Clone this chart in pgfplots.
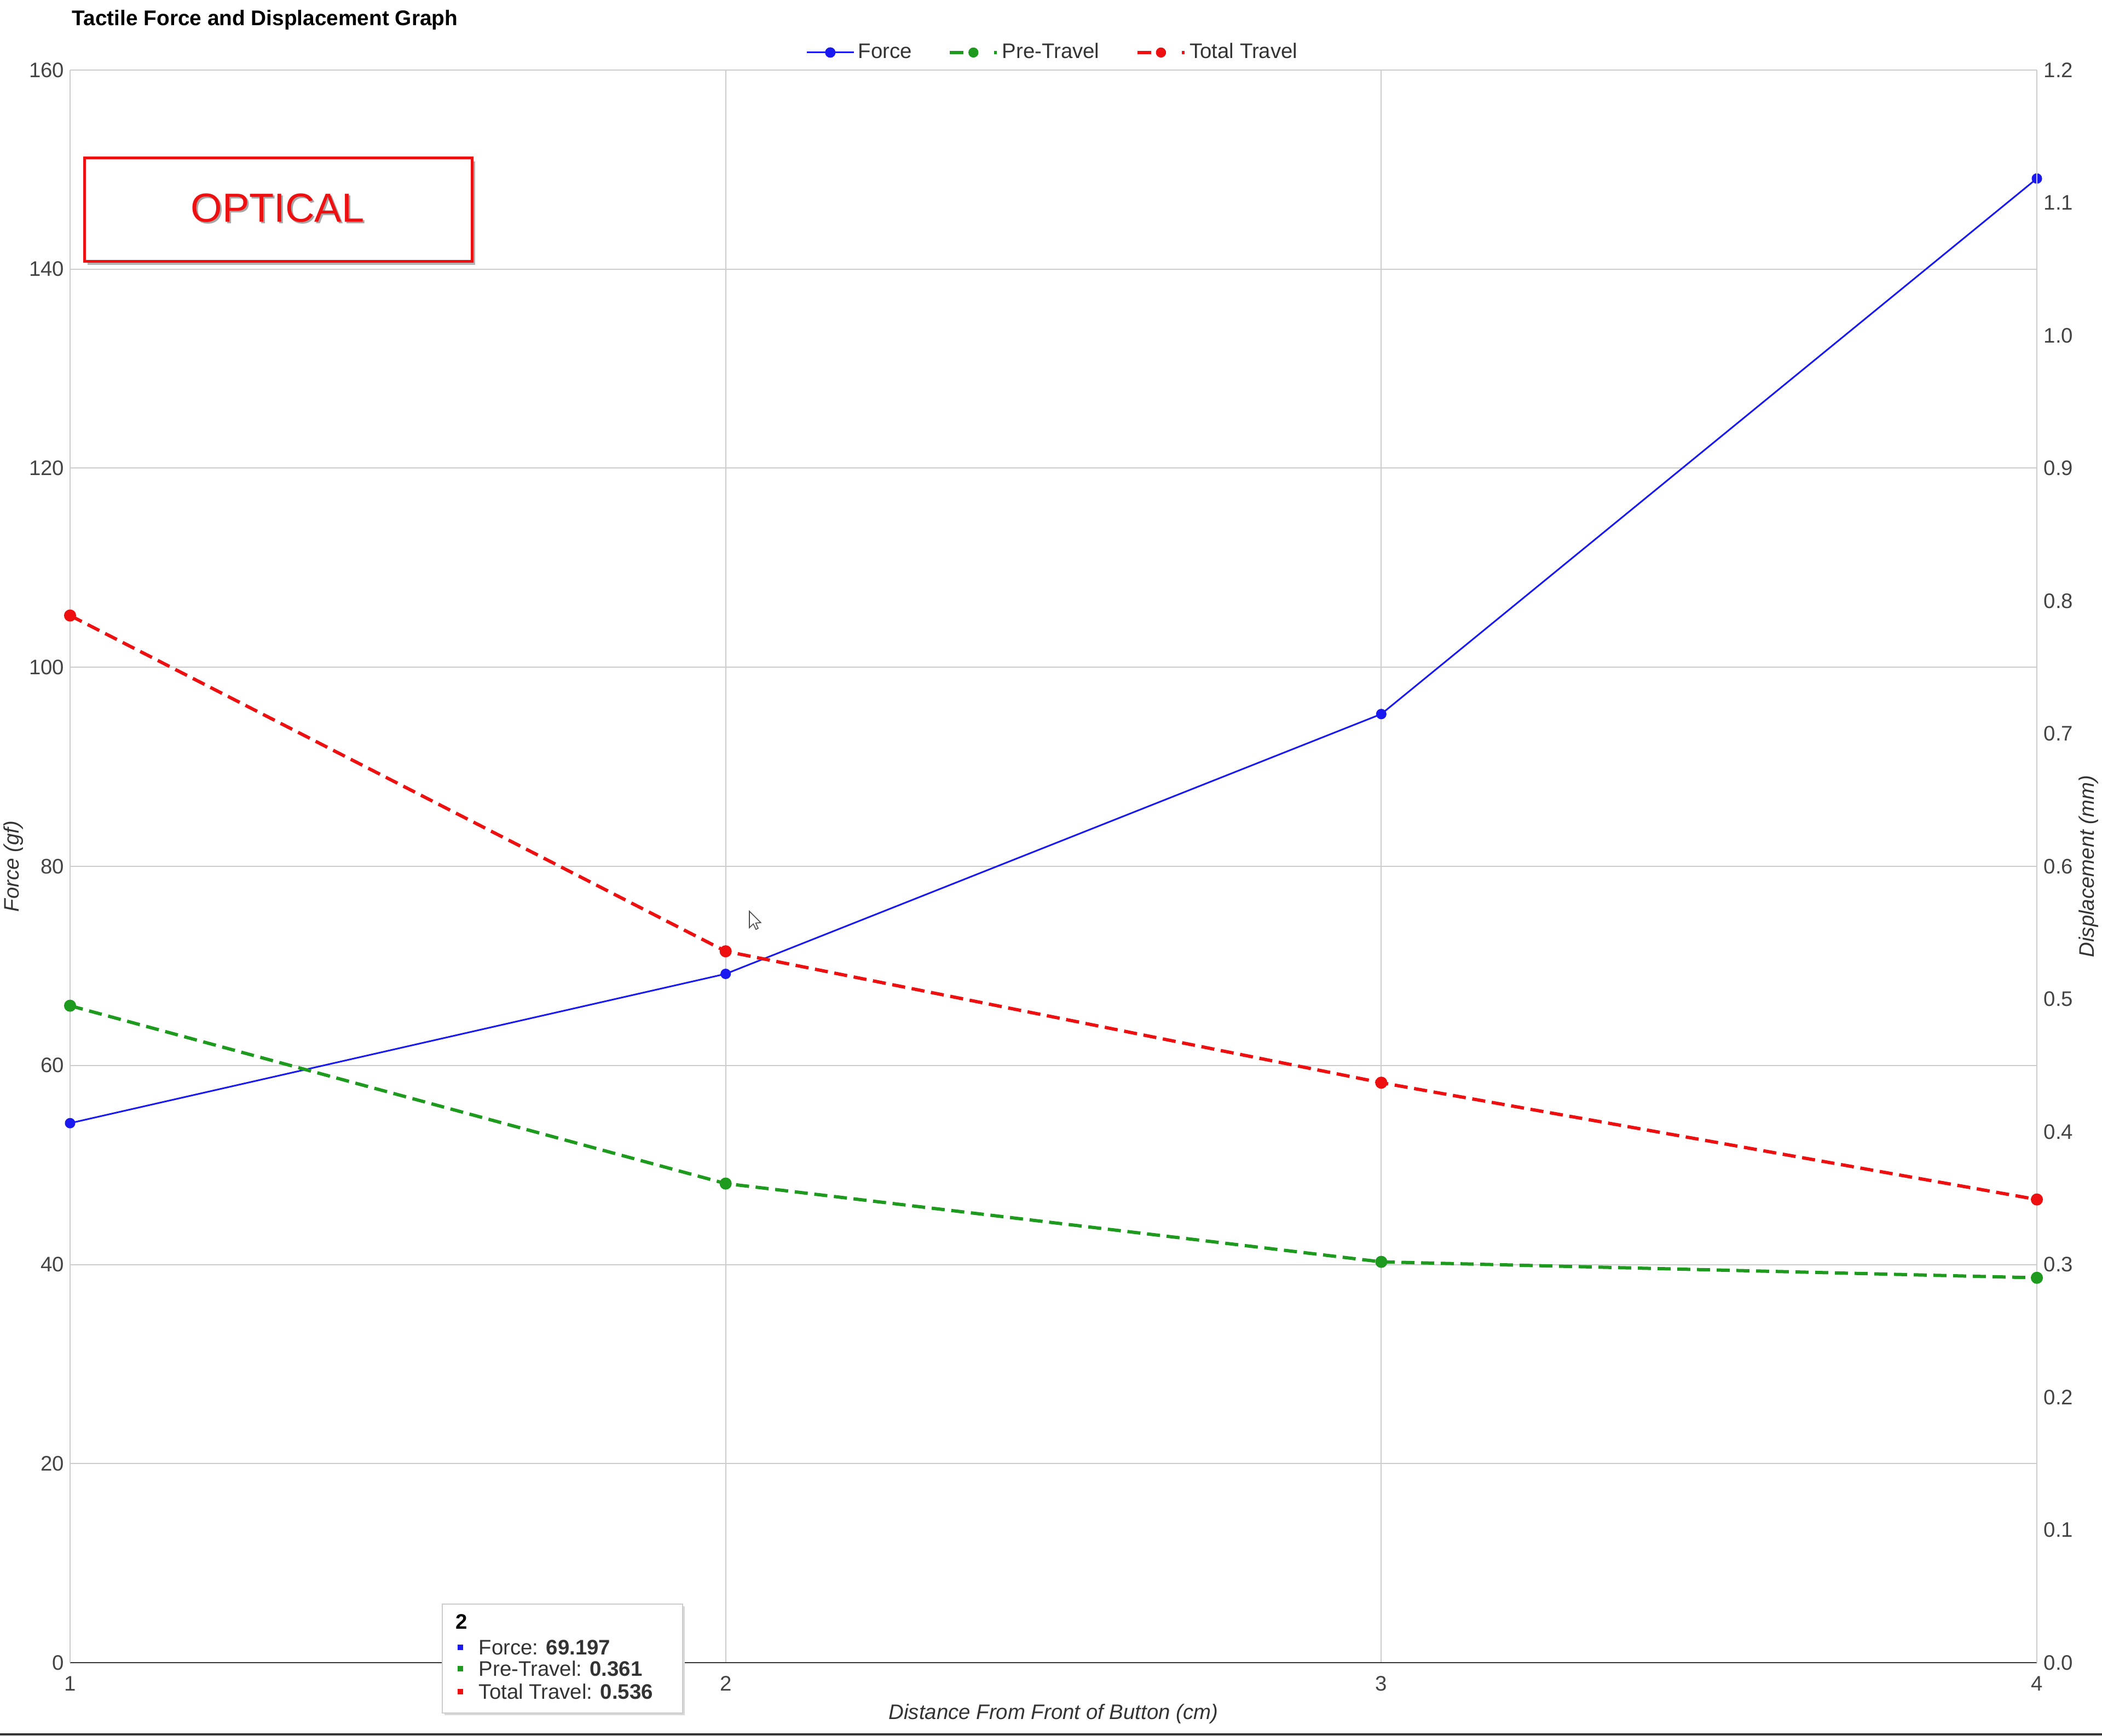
\documentclass[border=0pt]{standalone}
\usepackage{fontspec}
\setmainfont{Liberation Sans}
\usepackage{pgfplots}
\pgfplotsset{compat=1.18}

\definecolor{fblue}{RGB}{26,26,240}
\definecolor{pgreen}{RGB}{30,155,30}
\definecolor{tred}{RGB}{238,16,16}
\definecolor{gridc}{RGB}{204,204,204}
\definecolor{axisc}{RGB}{51,51,51}
\definecolor{tickc}{RGB}{68,68,68}

\newcommand{\fs}{\fontsize{9.6}{11}\selectfont}

% shared geometry of both axes
\pgfplotsset{
  base/.style={
    scale only axis, width=898.25pt, height=727.5pt,
    at={(32pt,33.25pt)}, anchor=south west,
    xmin=1, xmax=4, clip=false,
    major tick length=0pt,
    tick label style={font=\fs, color=tickc},
    /pgf/number format/assume math mode=true,
    label style={font=\fs\itshape, color=axisc},
  },
}

\begin{document}
\begin{tikzpicture}
\path[use as bounding box] (0,0) rectangle (960pt,792.75pt);

\begin{axis}[base,
  axis x line*=bottom, axis y line*=left,
  x axis line style={axisc, line width=0.7pt},
  y axis line style={gridc, line width=0.6pt},
  ymin=0, ymax=160, ytick={0,20,40,60,80,100,120,140,160},
  xtick={1,2,3,4},
  grid=major, grid style={gridc, line width=0.5pt},
  xticklabel style={anchor=center, yshift=-9.5pt},
  yticklabel style={anchor=east, inner sep=0pt, xshift=-2.5pt},
  xlabel={Distance From Front of Button (cm)},
  xlabel style={at={(axis description cs:0.5,-0.0323)}, anchor=center},
  ylabel={Force (gf)},
  ylabel style={at={(axis description cs:-0.0287,0.5)}, anchor=center},
  legend columns=3,
  legend style={draw=none, fill=none, at={(0.5,1.011)}, anchor=center,
    font=\fs, text=axisc, nodes={inner sep=1.6pt},
    /tikz/every even column/.append style={column sep=15pt}},
]
\addplot[fblue, line width=0.75pt, mark=*, mark size=2pt,
  legend image code/.code={
    \draw[fblue, line width=0.75pt] (0pt,0pt) -- (21.5pt,0pt);
    \fill[fblue] (10.75pt,0pt) circle (2pt);}]
  coordinates {(1,54.2) (2,69.197) (3,95.3) (4,149.1)};
\addlegendentry{Force}
\addlegendimage{legend image code/.code={
    \draw[pgreen, line width=1.5pt] (0pt,0pt) -- (6.3pt,0pt);
    \draw[pgreen, line width=1.5pt] (9pt,0pt) -- (13pt,0pt);
    \draw[pgreen, line width=1.5pt] (20.3pt,0pt) -- (21.5pt,0pt);
    \fill[pgreen] (10.75pt,0pt) circle (2.1pt);}}
\addlegendentry{Pre-Travel}
\addlegendimage{legend image code/.code={
    \draw[tred, line width=1.5pt] (0pt,0pt) -- (6.3pt,0pt);
    \draw[tred, line width=1.5pt] (9pt,0pt) -- (13pt,0pt);
    \draw[tred, line width=1.5pt] (20.3pt,0pt) -- (21.5pt,0pt);
    \fill[tred] (10.75pt,0pt) circle (2.1pt);}}
\addlegendentry{Total Travel}
\end{axis}

\begin{axis}[base,
  axis x line=none, axis y line*=right,
  y axis line style={gridc, line width=0.6pt},
  ymin=0, ymax=1.2,
  ytick={0,0.1,0.2,0.3,0.4,0.5,0.6,0.7,0.8,0.9,1.0,1.1,1.2},
  yticklabel style={anchor=west, inner sep=0pt, xshift=3pt,
    /pgf/number format/fixed, /pgf/number format/fixed zerofill,
    /pgf/number format/precision=1},
  ylabel={Displacement (mm)},
  ylabel style={at={(axis description cs:1.0264,0.5)}, anchor=center},
]
\addplot[pgreen, line width=1.5pt, dash pattern=on 6pt off 3pt,
  mark=*, mark size=2pt, mark options={solid}]
  coordinates {(1,0.495) (2,0.361) (3,0.302) (4,0.290)};
\addplot[tred, line width=1.5pt, dash pattern=on 6pt off 3pt,
  mark=*, mark size=2pt, mark options={solid}]
  coordinates {(1,0.789) (2,0.536) (3,0.437) (4,0.349)};
\end{axis}

% title
\node[anchor=west, inner sep=0pt, font=\fontsize{9.7}{11}\selectfont\bfseries]
  at (32.75pt,783.5pt) {Tactile Force and Displacement Graph};

% OPTICAL stamp
\fill[black!30] (40pt,671.75pt) rectangle (217pt,719pt);
\draw[tred, line width=1.25pt, fill=white] (38.5pt,673.25pt) rectangle (215.5pt,720.5pt);
\node[text=black!35, font=\fontsize{18.5}{20}\selectfont] at (127.5pt,697pt) {OPTICAL};
\node[text=tred, font=\fontsize{18.5}{20}\selectfont] at (126.75pt,697.75pt) {OPTICAL};

% tooltip
\fill[black!15] (203pt,9.25pt) rectangle (312.75pt,59pt);
\draw[gridc, line width=0.6pt, fill=white] (202pt,10.25pt) rectangle (311.75pt,60pt);
\node[anchor=west, inner sep=0pt, font=\fs\bfseries] at (208pt,52pt) {2};
\fill[fblue] (209pt,39pt) rectangle ++(2.5pt,2.5pt);
\fill[pgreen] (209pt,29.25pt) rectangle ++(2.5pt,2.5pt);
\fill[tred] (209pt,18.75pt) rectangle ++(2.5pt,2.5pt);
\node[anchor=west, inner sep=0pt, font=\fs, text=axisc] at (218.5pt,40.25pt) {Force: \textbf{69.197}};
\node[anchor=west, inner sep=0pt, font=\fs, text=axisc] at (218.5pt,30.5pt) {Pre-Travel: \textbf{0.361}};
\node[anchor=west, inner sep=0pt, font=\fs, text=axisc] at (218.5pt,20pt) {Total Travel: \textbf{0.536}};

% mouse pointer
\draw[black!70, line width=0.4pt, fill=white] (342.25pt,376.5pt) -- ++(0pt,-7.5pt) -- ++(1.8pt,1.7pt)
  -- ++(1.2pt,-2.5pt) -- ++(1pt,0.5pt) -- ++(-1.1pt,2.4pt) -- ++(2.3pt,0.2pt) -- cycle;

% screenshot edge
\draw[axisc, line width=1pt] (0pt,0.5pt) -- (960pt,0.5pt);
\end{tikzpicture}
\end{document}
